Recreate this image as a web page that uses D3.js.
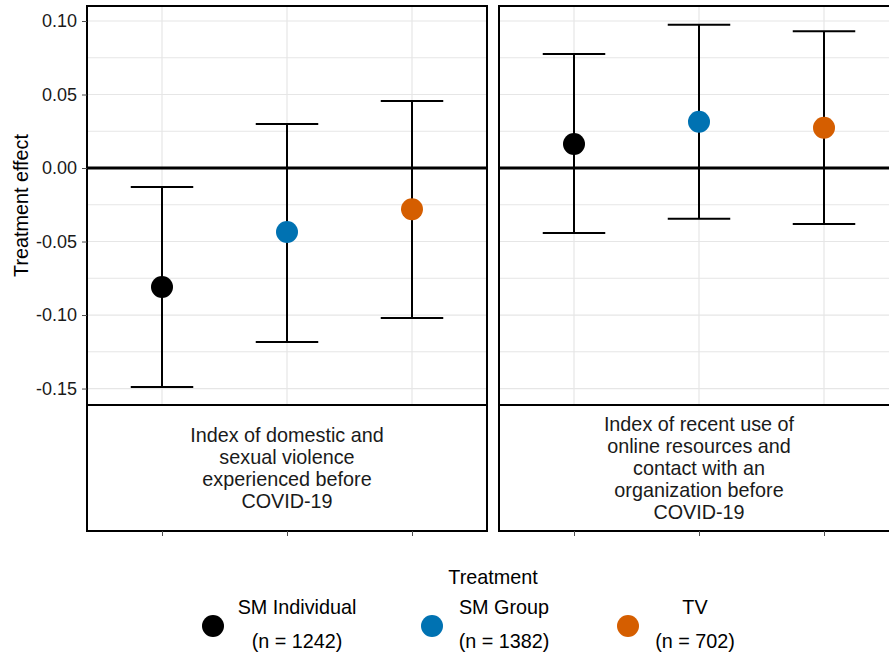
<!DOCTYPE html>
<html>
<head>
<meta charset="utf-8">
<script src="https://cdn.jsdelivr.net/npm/d3@7"></script>
<style>
  html, body { margin: 0; padding: 0; background: #fff; }
  svg { display: block; font-family: "Liberation Sans", Arial, sans-serif; }
</style>
</head>
<body>
<svg id="chart" width="889" height="656"></svg>
<script>
// Treatment arms and their sample sizes
const treatments = ["SM Individual", "SM Group", "TV"];
const sampleSizes = [1242, 1382, 702];
const treatmentColors = ["#000000", "#0072B2", "#D55E00"];

// Outcome facets (strip labels, already wrapped)
const facetLabels = [
  ["Index of domestic and", "sexual violence", "experienced before", "COVID-19"],
  ["Index of recent use of", "online resources and", "contact with an", "organization before", "COVID-19"]
];

// Point estimates and 95% confidence bounds, one array per facet
const estimates = [
  [-0.081, -0.0435, -0.028],
  [0.0163, 0.0315, 0.0274]
];
const lowerBounds = [
  [-0.149, -0.1184, -0.102],
  [-0.0442, -0.0345, -0.0381]
];
const upperBounds = [
  [-0.0129, 0.0299, 0.0456],
  [0.0776, 0.0975, 0.093]
];

// Y axis ticks
const yTicks = [-0.15, -0.10, -0.05, 0.00, 0.05, 0.10];
const yMinorTicks = [-0.125, -0.075, -0.025, 0.025, 0.075];

const svg = d3.select("#chart");

const panelTop = 6, panelBottom = 405, stripBottom = 531;
const panelWidth = 400;
const panelLefts = [87, 499];

const y = d3.scaleLinear().domain([-0.1612, 0.1102]).range([panelBottom, panelTop]);
const x = d3.scalePoint().domain(treatments).range([0, panelWidth]).padding(0.6);
const color = d3.scaleOrdinal().domain(treatments).range(treatmentColors);

const gridColor = "#e6e6e6";

facetLabels.forEach((lines, f) => {
  const g = svg.append("g").attr("transform", `translate(${panelLefts[f]},0)`);

  // clip so the panel content stays inside the panel
  const clipId = "clip" + f;
  g.append("clipPath").attr("id", clipId)
    .append("rect").attr("x", 0).attr("y", panelTop)
    .attr("width", panelWidth).attr("height", panelBottom - panelTop);

  const inner = g.append("g").attr("clip-path", `url(#${clipId})`);

  // minor grid
  inner.selectAll("line.minor").data(yMinorTicks).join("line")
    .attr("x1", 0).attr("x2", panelWidth)
    .attr("y1", d => y(d)).attr("y2", d => y(d))
    .attr("stroke", gridColor).attr("stroke-width", 1);
  // major grid
  inner.selectAll("line.major").data(yTicks).join("line")
    .attr("x1", 0).attr("x2", panelWidth)
    .attr("y1", d => y(d)).attr("y2", d => y(d))
    .attr("stroke", gridColor).attr("stroke-width", 1.2);
  inner.selectAll("line.vgrid").data(treatments).join("line")
    .attr("x1", d => x(d)).attr("x2", d => x(d))
    .attr("y1", panelTop).attr("y2", panelBottom)
    .attr("stroke", gridColor).attr("stroke-width", 1.2);

  // zero reference line
  inner.append("line")
    .attr("x1", 0).attr("x2", panelWidth)
    .attr("y1", y(0)).attr("y2", y(0))
    .attr("stroke", "#000").attr("stroke-width", 3);

  // error bars
  const capHalf = x.step() * 0.25;
  const rows = treatments.map((t, i) => ({
    t, est: estimates[f][i], lo: lowerBounds[f][i], hi: upperBounds[f][i]
  }));
  const eb = inner.selectAll("g.eb").data(rows).join("g");
  eb.append("line")
    .attr("x1", d => x(d.t)).attr("x2", d => x(d.t))
    .attr("y1", d => y(d.lo)).attr("y2", d => y(d.hi))
    .attr("stroke", "#000").attr("stroke-width", 2);
  eb.append("line")
    .attr("x1", d => x(d.t) - capHalf).attr("x2", d => x(d.t) + capHalf)
    .attr("y1", d => y(d.lo)).attr("y2", d => y(d.lo))
    .attr("stroke", "#000").attr("stroke-width", 2);
  eb.append("line")
    .attr("x1", d => x(d.t) - capHalf).attr("x2", d => x(d.t) + capHalf)
    .attr("y1", d => y(d.hi)).attr("y2", d => y(d.hi))
    .attr("stroke", "#000").attr("stroke-width", 2);
  // points
  eb.append("circle")
    .attr("cx", d => x(d.t)).attr("cy", d => y(d.est))
    .attr("r", 11).attr("fill", d => color(d.t));

  // panel border
  g.append("rect")
    .attr("x", 0).attr("y", panelTop)
    .attr("width", panelWidth).attr("height", panelBottom - panelTop)
    .attr("fill", "none").attr("stroke", "#000").attr("stroke-width", 2);

  // strip (below the panel)
  g.append("rect")
    .attr("x", 0).attr("y", panelBottom)
    .attr("width", panelWidth).attr("height", stripBottom - panelBottom)
    .attr("fill", "#fff").attr("stroke", "#000").attr("stroke-width", 2);
  const lh = 21.8;
  const midY = (panelBottom + stripBottom) / 2;
  const t0 = midY - (lines.length - 1) * lh / 2;
  g.append("text")
    .attr("x", panelWidth / 2).attr("text-anchor", "middle")
    .attr("font-size", 19.8).attr("fill", "#1a1a1a")
    .selectAll("tspan").data(lines).join("tspan")
    .attr("x", panelWidth / 2)
    .attr("y", (d, i) => t0 + i * lh)
    .attr("dy", "0.35em")
    .text(d => d);

  // bottom axis ticks (no labels)
  const xAxis = d3.axisBottom(x).tickSize(5).tickFormat("");
  const xa = g.append("g").attr("transform", `translate(0,${stripBottom})`).call(xAxis);
  xa.select(".domain").remove();
  xa.selectAll(".tick line").attr("stroke", "#4d4d4d").attr("stroke-width", 1);
});

// left y axis
const yAxis = d3.axisLeft(y).tickValues(yTicks).tickSize(5).tickPadding(5)
  .tickFormat(d3.format(".2f"));
const ya = svg.append("g").attr("transform", `translate(${panelLefts[0]},0)`).call(yAxis);
ya.select(".domain").remove();
ya.selectAll(".tick line").attr("stroke", "#4d4d4d").attr("stroke-width", 1);
ya.selectAll(".tick text").attr("font-size", 18).attr("fill", "#1a1a1a")
  .attr("font-family", "Liberation Sans, Arial, sans-serif")
  .text(d => d3.format(".2f")(d).replace("−", "-"));

// y axis title
svg.append("text")
  .attr("transform", `translate(21,${(panelTop + panelBottom) / 2}) rotate(-90)`)
  .attr("text-anchor", "middle").attr("dy", "0.35em")
  .attr("font-size", 19.8).attr("fill", "#000")
  .text("Treatment effect");

// legend
svg.append("text")
  .attr("x", 493).attr("y", 577).attr("dy", "0.35em")
  .attr("text-anchor", "middle").attr("font-size", 19.8).attr("fill", "#000")
  .text("Treatment");

const legendKeyX = [213, 432, 628];
const legendTextX = [297, 504, 695];
const lg = svg.selectAll("g.legend").data(treatments).join("g");
lg.append("circle")
  .attr("cx", (d, i) => legendKeyX[i]).attr("cy", 626)
  .attr("r", 11).attr("fill", d => color(d));
lg.append("text")
  .attr("x", (d, i) => legendTextX[i]).attr("y", 607).attr("dy", "0.35em")
  .attr("text-anchor", "middle").attr("font-size", 19.8).attr("fill", "#000")
  .text(d => d);
lg.append("text")
  .attr("x", (d, i) => legendTextX[i]).attr("y", 641).attr("dy", "0.35em")
  .attr("text-anchor", "middle").attr("font-size", 19.8).attr("fill", "#000")
  .text((d, i) => `(n = ${sampleSizes[i]})`);
</script>
</body>
</html>
